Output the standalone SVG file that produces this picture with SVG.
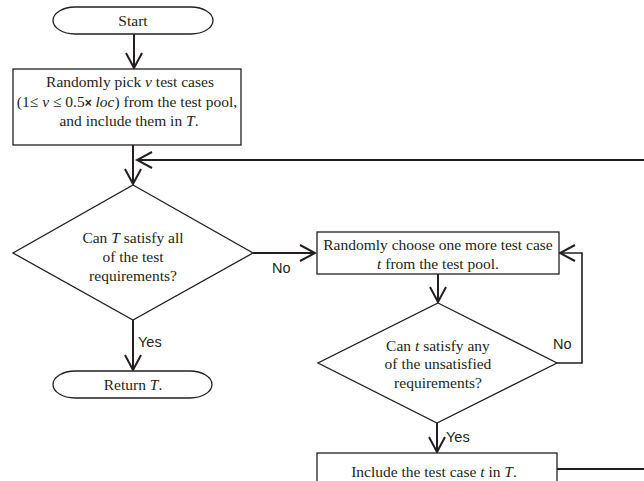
<svg xmlns="http://www.w3.org/2000/svg" width="644" height="481" viewBox="0 0 644 481">
<style>
.shape{fill:#fff;stroke:#231f20;stroke-width:1.3}
.t{font-family:"Liberation Serif","Times New Roman",serif;font-size:15.5px;fill:#231f20;text-anchor:middle}
.lbl{font-family:"Liberation Sans",Arial,sans-serif;font-size:14.5px;fill:#231f20}
.conn{fill:none;stroke:#231f20;stroke-width:2}
.thin{fill:none;stroke:#231f20;stroke-width:1.6}
</style>
<defs>
<marker id="arr" viewBox="-17 -10 19 20" markerWidth="19" markerHeight="20" refX="0" refY="0" markerUnits="userSpaceOnUse" orient="auto">
<path d="M-15,-8 L0,0 L-15,8" fill="none" stroke="#231f20" stroke-width="2"/>
</marker>
</defs>
<g id="connectors">
<path class="conn" d="M134,34 V68" marker-end="url(#arr)"/>
<path class="conn" d="M133,145 V184" marker-end="url(#arr)"/>
<path class="conn" d="M557,469 H650 V160 H137" marker-end="url(#arr)"/>
<path class="conn" d="M253,253 H315" marker-end="url(#arr)"/>
<path class="conn" d="M133,320 V370" marker-end="url(#arr)"/>
<path class="conn" d="M438,274 V302" marker-end="url(#arr)"/>
<path class="thin" d="M557,363 H582 V253 H560" marker-end="url(#arr)"/>
<path class="conn" d="M437,423 V452" marker-end="url(#arr)"/>
<text class="lbl" x="272" y="273">No</text>
<text class="lbl" x="138" y="347">Yes</text>
<text class="lbl" x="553" y="349">No</text>
<text class="lbl" x="446" y="442">Yes</text>
</g>
<g id="start">
<rect class="shape" x="53" y="7" width="160" height="27" rx="22" ry="13.5"/>
<text class="t" x="133" y="25.5">Start</text>
</g>
<g id="pick">
<rect class="shape" x="13" y="69" width="228" height="76"/>
<text class="t" x="130" y="87">Randomly pick <tspan font-style="italic">v</tspan> test cases</text>
<text class="t" x="127" y="106.5" font-size="15">(1≤ <tspan font-style="italic">v</tspan> ≤ 0.5<tspan font-family="Liberation Sans,Arial,sans-serif" font-weight="bold" font-size="12">×</tspan> <tspan font-style="italic">loc</tspan>) from the test pool,</text>
<text class="t" x="129" y="126">and include them in <tspan font-style="italic">T</tspan>.</text>
</g>
<g id="check-all">
<path class="shape" d="M133,185 L253,253 L133,320 L13,253 Z"/>
<text class="t" x="133" y="243">Can <tspan font-style="italic">T</tspan> satisfy all</text>
<text class="t" x="133" y="262">of the test</text>
<text class="t" x="133" y="280.5">requirements?</text>
</g>
<g id="return">
<rect class="shape" x="53" y="371" width="159" height="27" rx="22" ry="13.5"/>
<text class="t" x="133" y="389.5">Return <tspan font-style="italic">T</tspan>.</text>
</g>
<g id="choose">
<rect class="shape" x="317" y="232" width="242" height="42"/>
<text class="t" x="438" y="249.5">Randomly choose one more test case</text>
<text class="t" x="438" y="269"><tspan font-style="italic">t</tspan> from the test pool.</text>
</g>
<g id="check-any">
<path class="shape" d="M438,303 L557,363 L437,423 L318,363 Z"/>
<text class="t" x="438" y="350.5">Can <tspan font-style="italic">t</tspan> satisfy any</text>
<text class="t" x="438" y="369">of the unsatisfied</text>
<text class="t" x="438" y="388">requirements?</text>
</g>
<g id="include">
<rect class="shape" x="317" y="453" width="240" height="40"/>
<text class="t" x="434" y="477">Include the test case <tspan font-style="italic">t</tspan> in <tspan font-style="italic">T</tspan>.</text>
</g>
</svg>
